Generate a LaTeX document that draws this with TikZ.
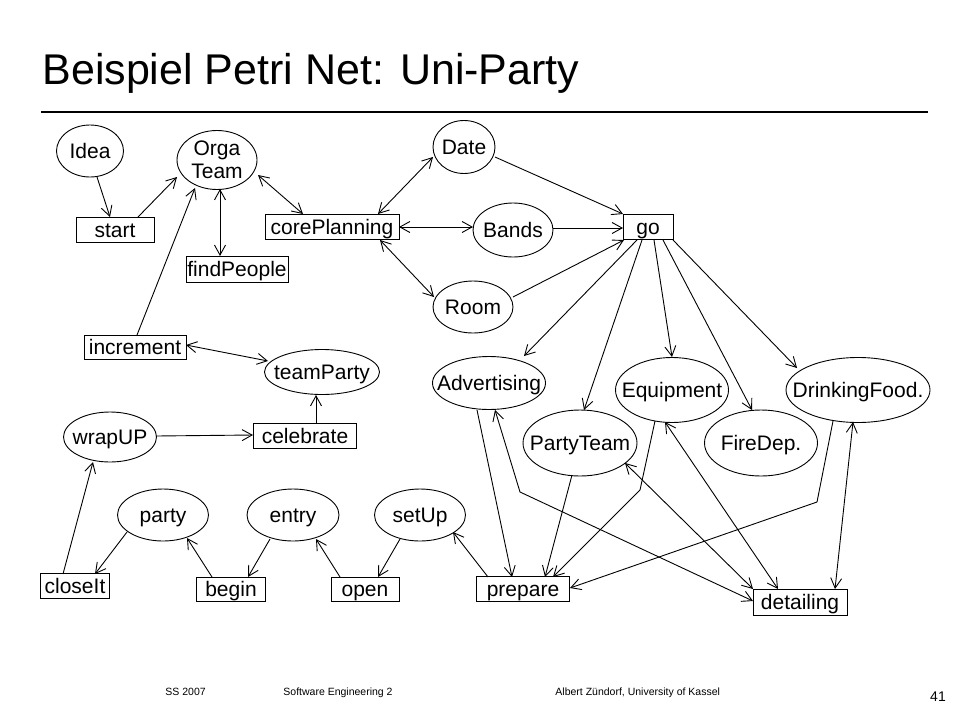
\documentclass[tikz,border=0pt]{standalone}
\usepackage{fontspec}
\setmainfont{Liberation Sans}
\usetikzlibrary{arrows.meta,calc,shapes.geometric}
\begin{document}
\begin{tikzpicture}[x=1pt,y=-1pt,
  >={Straight Barb[length=10pt,width=11pt]},
  line width=0.9pt,
  place/.style={ellipse,draw,inner sep=0pt},
  trans/.style={rectangle,draw,inner sep=0pt,font=\fontsize{21}{24}\selectfont,text height=17pt,text depth=2pt},
  lbl/.style={inner sep=0pt,font=\fontsize{21}{24}\selectfont,text height=17pt,text depth=2pt},
  lbltwo/.style={inner sep=0pt,font=\fontsize{21}{23}\selectfont,align=center},
  foot/.style={font=\fontsize{10.5}{12}\selectfont,inner sep=0pt,anchor=base west}]
\fill[white] (0,0) rectangle (960,720);
\useasboundingbox (0,0) rectangle (960,720);

% title
\node[anchor=base west,font=\fontsize{43}{50}\selectfont,inner sep=0pt] (title) at (42,84) {Beispiel Petri Net: Uni-Party};
\draw[line width=1.8pt] (41,112) -- (928,112);

% places
\node[place,minimum width=67,minimum height=52,label={[lbl]center:Idea}] (idea) at (90,151) {};
\node[place,minimum width=80,minimum height=59,label={[lbltwo]center:Orga\\Team}] (orga) at (217,160) {};
\node[place,minimum width=62,minimum height=53,label={[lbl]center:Date}] (date) at (464,147) {};
\node[place,minimum width=80,minimum height=54,label={[lbl]center:Bands}] (bands) at (513,230) {};
\node[place,minimum width=80,minimum height=52,label={[lbl]center:Room}] (room) at (473,307) {};
\node[place,minimum width=113,minimum height=53,label={[lbl]center:Advertising}] (adv) at (489,383) {};
\node[place,minimum width=113,minimum height=65,label={[lbl]center:Equipment}] (equip) at (672,390) {};
\node[place,minimum width=144,minimum height=65,label={[lbl]center:DrinkingFood.}] (drink) at (858,390) {};
\node[place,minimum width=114,minimum height=66,label={[lbl]center:PartyTeam}] (pteam) at (580,443) {};
\node[place,minimum width=113,minimum height=66,label={[lbl]center:FireDep.}] (fire) at (761,443) {};
\node[place,minimum width=115,minimum height=45,label={[lbl]center:teamParty}] (tparty) at (322,372) {};
\node[place,minimum width=93,minimum height=50,label={[lbl]center:wrapUP}] (wrap) at (110,437) {};
\node[place,minimum width=91,minimum height=52,label={[lbl]center:party}] (party) at (163,515) {};
\node[place,minimum width=92,minimum height=52,label={[lbl]center:entry}] (entry) at (293,515) {};
\node[place,minimum width=91,minimum height=52,label={[lbl]center:setUp}] (setup) at (420,515) {};

% transitions
\node[trans,minimum width=78,minimum height=25] (start) at (115,230) {start};
\node[trans,minimum width=102,minimum height=26] (findp) at (237,269) {findPeople};
\node[trans,minimum width=134,minimum height=25] (core) at (332,227) {corePlanning};
\node[trans,minimum width=50,minimum height=25] (go) at (648,227) {go};
\node[trans,minimum width=93,minimum height=25] (prepare) at (523,589) {prepare};
\node[trans,minimum width=94,minimum height=26] (detail) at (800,602) {detailing};
\node[trans,minimum width=102,minimum height=24] (incr) at (135,347) {increment};
\node[trans,minimum width=103,minimum height=25] (celeb) at (305,436) {celebrate};
\node[trans,minimum width=69,minimum height=25] (closeit) at (75,586) {closeIt};
\node[trans,minimum width=69,minimum height=24] (begin) at (231,589) {begin};
\node[trans,minimum width=68,minimum height=24] (open) at (365,589) {open};

% bend points
\coordinate (eqbend) at (640,490);
\coordinate (drbend) at (817,502);
\coordinate (adbend) at (520,492);

% arcs
\draw[->] ($(idea)+(7,26)$) -- ($(start)+(-5,-13)$);
\draw[->] ($(start)+(23,-13)$) -- ($(orga)+(-40,17)$);
\draw[<->] ($(orga)+(3,29)$) -- ($(findp)+(-17,-13)$);
\draw[<->] ($(orga)+(41,15)$) -- ($(core)+(-29,-13)$);
\draw[<->] ($(core)+(46,-13)$) -- ($(date)+(-31,10)$);
\draw[<->] ($(core)+(67,0)$) -- ($(bands)+(-40,-3)$);
\draw[<->] ($(core)+(48,13)$) -- ($(room)+(-39,-10)$);
\draw[->] ($(date)+(31,10)$) -- ($(go)+(-25,-13)$);
\draw[->] ($(bands)+(40,-2)$) -- ($(go)+(-25,1)$);
\draw[->] ($(room)+(40,-10)$) -- ($(go)+(-24,13)$);
\draw[->] ($(go)+(-11,13)$) -- ($(adv)+(35,-27)$);
\draw[->] ($(go)+(-6,13)$) -- ($(pteam)+(4,-33)$);
\draw[->] ($(go)+(6,13)$) -- ($(equip)+(0,-33)$);
\draw[->] ($(go)+(15,13)$) -- ($(fire)+(-9,-33)$);
\draw[->] ($(go)+(25,13)$) -- ($(drink)+(-61,-22)$);
\draw[->] ($(adv)+(-12,27)$) -- ($(prepare)+(-11,-12)$);
\draw[->] ($(pteam)+(-8,32)$) -- ($(prepare)+(22,-12)$);
\draw[->] ($(equip)+(-17,31)$) -- (eqbend) -- ($(prepare)+(30,-12)$);
\draw[->] ($(drink)+(-25,31)$) -- (drbend) -- ($(prepare)+(47,-1)$);
\draw[<->] ($(adv)+(6,27)$) -- (adbend) -- ($(detail)+(-47,-1)$);
\draw[<->] ($(pteam)+(45,20)$) -- ($(detail)+(-47,-13)$);
\draw[<->] ($(equip)+(-7,32)$) -- ($(detail)+(-22,-13)$);
\draw[<->] ($(drink)+(-5,32)$) -- ($(detail)+(35,-13)$);
\draw[->] ($(prepare)+(-35,-12)$) -- ($(setup)+(33,17)$);
\draw[->] ($(incr)+(2,-12)$) -- ($(orga)+(-22,28)$);
\draw[<->] ($(incr)+(51,-2)$) -- ($(tparty)+(-54,-11)$);
\draw[->] ($(celeb)+(11,-12)$) -- ($(tparty)+(-6,23)$);
\draw[->] ($(wrap)+(46,-1)$) -- ($(celeb)+(-52,-1)$);
\draw[->] ($(closeit)+(-12,-12)$) -- ($(wrap)+(-17,25)$);
\draw[->] ($(party)+(-36,17)$) -- ($(closeit)+(20,-12)$);
\draw[->] ($(begin)+(-19,-12)$) -- ($(party)+(24,23)$);
\draw[->] ($(entry)+(-23,24)$) -- ($(begin)+(17,-12)$);
\draw[->] ($(open)+(-25,-12)$) -- ($(entry)+(23,24)$);
\draw[->] ($(setup)+(-20,24)$) -- ($(open)+(13,-12)$);

% footer
\node[foot] (f1) at (165,695) {SS 2007};
\node[foot] (f2) at (283,695) {Software Engineering 2};
\node[foot] (f3) at (555,695) {Albert Zündorf, University of Kassel};
\node[inner sep=0pt,font=\fontsize{14}{16}\selectfont] (pg) at (938,697) {41};
\end{tikzpicture}
\end{document}
